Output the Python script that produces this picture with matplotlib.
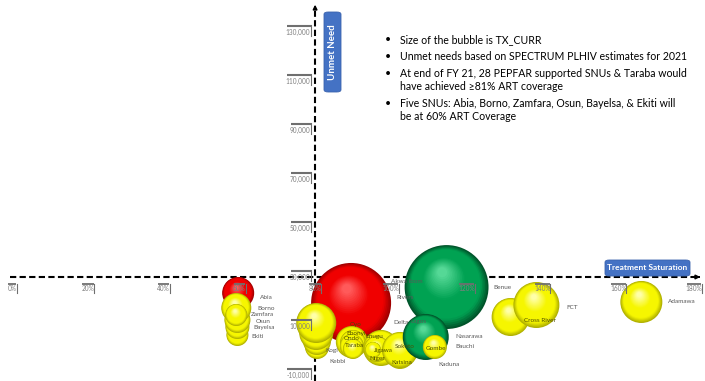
import numpy as np
import matplotlib
matplotlib.use("Agg")
import matplotlib.pyplot as plt
from matplotlib.colors import to_rgb
from matplotlib.patches import FancyBboxPatch

plt.rcParams['font.family'] = ['Lato', 'DejaVu Sans']

# ---------------- data ----------------
names = ["Benue", "Akwa Ibom", "Delta", "Rivers", "Kebbi", "Kogi", "Ogun", "Kwara",
         "Oyo", "Ebonyi", "Ondo", "Taraba", "Enugu", "Jigawa", "Niger", "Katsina", "Sokoto",
         "Lagos", "Kaduna", "Nasarawa", "Bauchi", "Gombe", "Cross River", "FCT", "Adamawa",
         "Abia", "Ekiti", "Bayelsa", "Osun", "Borno", "Zamfara"]
coverage = [122.6, 114.7, 96.8, 89.5, 80.5, 80.5, 80.3, 80.3,
            89.7, 90.0, 89.7, 90.0, 97.4, 96.3, 95.3, 102.4, 102.4,
            106.8, 110.5, 109.2, 111.6, 111.6, 131.6, 138.4, 166.1,
            59.7, 59.5, 59.5, 59.5, 59.2, 59.2]
unmet = [25900, 25900, 11600, 19400, 1430, 3880, 7140, 11220,
         3470, 3060, 1840, 610, 1020, 610, 200, -1840, 200,
         10000, 200, 5510, 1020, 1430, 13670, 18570, 19800,
         23470, 6330, 9590, 12450, 17350, 14490]
tx_curr = [10000, 176000, 3600, 160000, 14400, 19600, 28900, 40000,
           25600, 16900, 14400, 10000, 32400, 16900, 6400, 19600, 32400,
           6400, 6400, 52900, 8100, 14400, 36100, 52900, 44100,
           25600, 12100, 14400, 16900, 22500, 12100]
group = ["Y", "G", "R", "R", "Y", "Y", "Y", "Y",
         "Y", "Y", "Y", "Y", "Y", "Y", "Y", "Y", "Y",
         "G", "G", "G", "Y", "Y", "Y", "Y", "Y",
         "R", "Y", "Y", "Y", "Y", "Y"]
show_label = [True, True, True, True, True, True, False, False,
              True, True, True, True, True, True, True, True, True,
              True, True, True, True, True, True, True, True,
              True, True, True, True, True, True]

x_ticks = [0, 20, 40, 60, 80, 100, 120, 140, 160, 180]
y_ticks = [130000, 110000, 90000, 70000, 50000, 30000, 10000, -10000]
x_cross = 80        # vertical axis crosses at 80 %
y_cross = 30000     # horizontal axis crosses at 30,000

notes = ["Size of the bubble is TX_CURR",
         "Unmet needs based on SPECTRUM PLHIV estimates for 2021",
         "At end of FY 21, 28 PEPFAR supported SNUs & Taraba would\nhave achieved \u226581% ART coverage",
         "Five SNUs: Abia, Borno, Zamfara, Osun, Bayelsa, & Ekiti will\nbe at 60% ART Coverage"]

# ---------------- style ----------------
# label placement (pixels right / down from bubble centre), alignment
lab_dx = [17, -56, 15, 45, 12, 8, 0, 0,
          4, 3, 0, 1, -7, 7, 4, 2, 5,
          -6, 8, 30, 21, 1, 29, 30, 27,
          22, 14, 16, 18, 21, 15]
lab_dy = [0, -6, 0, -5, 15, 10, 0, 0,
          -17, -10, -7, -4, -11, 1, 8, 7, -4,
          -4, 14, 0, -1, 2, 3, 2, 0,
          5, 2, 0, 2, 1, 0]
lab_al = ["l", "l", "l", "l", "l", "l", "l", "l",
          "c", "c", "c", "c", "c", "c", "c", "c", "c",
          "l", "l", "l", "l", "c", "c", "l", "l",
          "l", "l", "l", "l", "l", "l"]

palette = {
    "R": ("#a00000", "#f00000", "#ff5a5a"),
    "Y": ("#b0b000", "#f6f600", "#ffffa8"),
    "G": ("#00542a", "#00a252", "#55d896"),
}

W, H, DPI = 705, 381, 100
fig = plt.figure(figsize=(W / DPI, H / DPI), dpi=DPI)
ax = fig.add_axes([0, 0, 1, 1])
ax.set_xlim(-3.16, 182.9)
ax.set_ylim(-12450, 143060)
ax.axis("off")
fig.canvas.draw()


def px_shift(x, y, dx, dy):
    """data point shifted by dx (right) / dy (down) pixels -> data coords"""
    d = ax.transData.transform((x, y))
    return ax.transData.inverted().transform((d[0] + dx, d[1] - dy))


def blend(c1, c2, t):
    a, b = np.array(to_rgb(c1)), np.array(to_rgb(c2))
    return tuple(a + (b - a) * t)


def bubble(x, y, tx, grp, z):
    rim, mid, hi = palette[grp]
    r = 0.1 * np.sqrt(tx)  # radius in px
    n = 26
    xs, ys, ss, cs = [], [], [], []
    for k in range(n):
        t = k / (n - 1)
        f = 1 - 0.88 * t
        if t < 0.18:
            col = blend(rim, mid, t / 0.18)
        elif t < 0.55:
            col = to_rgb(mid)
        else:
            col = blend(mid, hi, (t - 0.55) / 0.45)
        px, py = px_shift(x, y, -0.12 * (1 - f) * r, -0.40 * (1 - f) * r)
        xs.append(px)
        ys.append(py)
        ss.append((2 * f * r * 72 / DPI) ** 2)
        cs.append(col)
    ax.scatter(xs, ys, s=ss, c=cs, linewidths=0, zorder=z)


# axes (behind bubbles)
ax.plot([x_cross, x_cross], [-12450, 138500], color="black", lw=1.5,
        ls=(0, (3, 1.6)), zorder=1)
ax.annotate("", xy=(x_cross, 142300), xytext=(x_cross, 138000),
            arrowprops=dict(arrowstyle="-|>", color="black", lw=1.2, mutation_scale=6),
            zorder=1)
ax.plot([-0.5, 180.8], [y_cross, y_cross], color="black", lw=1.5,
        ls=(0, (3, 1.6)), zorder=1)
ax.annotate("", xy=(182.4, y_cross), xytext=(180.5, y_cross),
            arrowprops=dict(arrowstyle="-|>", color="black", lw=1.2, mutation_scale=6),
            zorder=1)

# bubbles
for i in range(len(names)):
    bubble(coverage[i], unmet[i], tx_curr[i], group[i], 10 + i)

tick_col = "#7f7f7f"
bar_col = "#6f6f6f"
# x tick labels
for v in x_ticks:
    lab = f"{v}%"
    tx_, ty_ = px_shift(v, y_cross, 0, 12)
    ax.text(tx_, ty_, lab, ha="center", va="center", fontsize=4.7, color=tick_col, zorder=70)
    w = 3.2 * len(lab)
    b0 = px_shift(v, y_cross, -w / 2 - 1, 7.5)
    b1 = px_shift(v, y_cross, w / 2 + 1, 7.5)
    ax.plot([b0[0], b1[0]], [b0[1], b1[1]], color=bar_col, lw=1.3, zorder=70,
            solid_capstyle="butt")
    c0 = px_shift(v, y_cross, w / 2 + 1.5, 7)
    c1 = px_shift(v, y_cross, w / 2 + 1.5, 16)
    ax.plot([c0[0], c1[0]], [c0[1], c1[1]], color=bar_col, lw=0.8, zorder=70)

# y tick labels
for v in y_ticks:
    lab = f"{v:,}"
    tx_, ty_ = px_shift(x_cross, v, -5, 0)
    ax.text(tx_, ty_, lab, ha="right", va="center", fontsize=4.7, color=tick_col, zorder=70)
    w = 3.1 * len(lab)
    b0 = px_shift(x_cross, v, -5 - w - 1, -6)
    b1 = px_shift(x_cross, v, -4, -6)
    ax.plot([b0[0], b1[0]], [b0[1], b1[1]], color=bar_col, lw=1.5, zorder=70,
            solid_capstyle="butt")
    c0 = px_shift(x_cross, v, -4, -6.5)
    c1 = px_shift(x_cross, v, -4, 4)
    ax.plot([c0[0], c1[0]], [c0[1], c1[1]], color=bar_col, lw=0.8, zorder=70)

# data labels
for i, nm in enumerate(names):
    if not show_label[i]:
        continue
    lx, ly = px_shift(coverage[i], unmet[i], lab_dx[i], lab_dy[i])
    col = "#4d4d00" if lab_al[i] == "c" and group[i] == "Y" else "#595959"
    ax.text(lx, ly, nm, ha="left" if lab_al[i] == "l" else "center", va="center",
            fontsize=4.6, color=col, zorder=80)

# axis title boxes
for (x0, y0, x1, y1) in [(324, 12, 341, 92), (605, 260, 690, 276)]:
    fig.patches.append(FancyBboxPatch((x0 / W, 1 - y1 / H), (x1 - x0) / W, (y1 - y0) / H,
                                      boxstyle="round,pad=0,rounding_size=0.006",
                                      transform=fig.transFigure, fc="#4472c4",
                                      ec="#3a62ad", lw=0.6, zorder=85))
fig.text(332.5 / W, 1 - 52 / H, "Unmet Need", rotation=90, ha="center", va="center",
         fontsize=7, fontweight="bold", color="white", zorder=90)
fig.text(647.5 / W, 1 - 268 / H, "Treatment Saturation", ha="center", va="center",
         fontsize=6, fontweight="bold", color="white", zorder=90)

# bullet notes
yy = 40
for note in notes:
    fig.text(385 / W, 1 - (yy - 6) / H, "\u2022", ha="left", va="top", fontsize=7.6, color="black")
    fig.text(400 / W, 1 - (yy - 6) / H, note, ha="left", va="top", fontsize=7.6,
             color="black", linespacing=1.25)
    yy += 17 if "\n" not in note else 30

fig.savefig("out.png", dpi=DPI)
